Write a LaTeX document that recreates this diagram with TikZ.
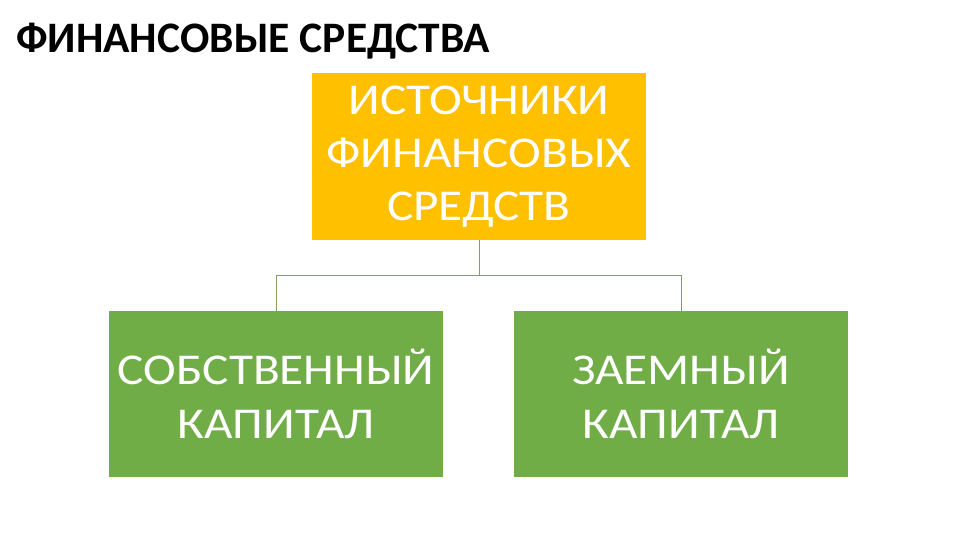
\documentclass[tikz,border=0pt]{standalone}
\usepackage{fontspec}
\setmainfont{Carlito}
\newfontfamily\boxfont{Carlito}[FakeStretch=1.12]
\usepackage{tikz}
\definecolor{srcorange}{RGB}{255,192,0}
\definecolor{capgreen}{RGB}{112,173,71}
\definecolor{linkgreen}{RGB}{130,160,100}
\tikzstyle{srcbox}  = [fill=srcorange,text=white,minimum width=334pt,minimum height=167pt,inner sep=0pt,align=center,font=\boxfont\fontsize{44}{53}\selectfont]
\tikzstyle{capbox}  = [fill=capgreen,text=white,minimum width=334pt,minimum height=166pt,inner sep=0pt,align=center,font=\boxfont\fontsize{44}{54}\selectfont]
\tikzstyle{link}    = [linkgreen,line width=1pt]

\begin{document}
\begin{tikzpicture}[x=1pt,y=-1pt]
           \useasboundingbox (0,0) rectangle (960,540);
           \node[anchor=base west,inner sep=0pt,font=\fontsize{43.5}{50}\selectfont\bfseries](title)at(16, 53){ФИНАНСОВЫЕ СРЕДСТВА};
           \node[srcbox](src)at(479, 156.5){ИСТОЧНИКИ\\ФИНАНСОВЫХ\\СРЕДСТВ};
           \node[capbox](own)at(276, 394){СОБСТВЕННЫЙ\\КАПИТАЛ};
           \node[capbox](loan)at(681, 394){ЗАЕМНЫЙ\\КАПИТАЛ};
           \coordinate(fork)at(479, 275);
           \draw[link](src.south)--(fork);
           \draw[link](fork)-|(own.north);
           \draw[link](fork)-|(loan.north);
       \end{tikzpicture}
\end{document}
